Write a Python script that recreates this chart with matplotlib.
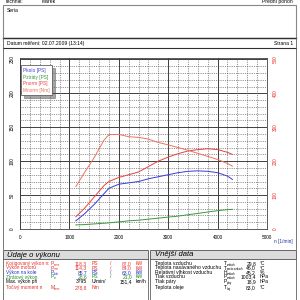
import numpy as np
import matplotlib
matplotlib.use('Agg')
import matplotlib.pyplot as plt
from matplotlib.lines import Line2D
from matplotlib.patches import Rectangle

plt.rcParams['font.family'] = ['Liberation Sans', 'DejaVu Sans']

# measured curves
rpm = [1130, 1300, 1500, 1700, 1800, 2000, 2200, 2400, 2600, 2800, 3000,
       3200, 3400, 3600, 3800, 4000, 4200, 4300]
p_norm = [18, 30, 47, 64, 70, 76, 80, 84, 92, 100, 106, 111, 115, 117, 118.3,
          117, 113, 110]
p_kolo = [12, 22, 36, 52, 60, 66, 68, 70, 74, 77, 80, 83, 85, 85.7, 85, 83,
          78, 73]
p_ztr = [6, 6.5, 7.5, 8.5, 9, 10.5, 12, 13, 14.5, 16, 17.5, 19, 21, 23, 25,
         27, 28.5, 29]
m_norm = [125, 165, 210, 262, 278, 278.8, 272, 270, 265, 255, 248, 240, 232,
          223, 214, 205, 193, 185]

legend_labels = ['Pkolo [PS]', 'Pztráty [PS]', 'Pnorm [PS]', 'Mnorm [Nm]']

perf_rows = [
    ('Korigovaný výkon n:', 'norm', '118,3', 'PS', '87,0', 'kW', '#e8302a'),
    ('Výkon motoru', 'mot', '114,3', 'PS', '84,0', 'kW', '#e8302a'),
    ('Výkon na kole', 'kolo', '85,7', 'PS', '63,0', 'kW', '#2030d0'),
    ('Ztrátový výkon', 'ztr', '28,6', 'PS', '21,0', 'kW', '#208a20'),
]
ext_rows = [
    ('Teplota vzduchu', 'T', 'vzduch', '29,8', '°C'),
    ('Teplota nasávaného vzduchu', 'T', 'nasáv.vzduch', '46,0', '°C'),
    ('Relativní vlhkost vzduchu', 'H', 'vzduch', '45,2', '%'),
    ('Tlak vzduchu', 'P', 'vzduch', '1003,4', 'hPa'),
    ('Tlak páry', 'P', 'páry', '18,9', 'hPa'),
    ('Teplota oleje', 'T', 'olej', '83,0', '°C'),
]

W, H = 300, 300
fig = plt.figure(figsize=(3, 3), dpi=100)
fs = 3.6


def ftxt(x, y, s, **kw):
    kw.setdefault('va', 'center')
    kw.setdefault('fontsize', fs)
    fig.text(x / W, 1 - y / H, s, **kw)


def fsym(x, y, base, sub, color='black'):
    ftxt(x, y, base, color=color)
    ftxt(x + 3.2, y + 1.3, sub, fontsize=2.0, color=color)


def fline(x0, y0, x1, y1, **kw):
    kw.setdefault('color', '#606060')
    kw.setdefault('lw', 0.6)
    fig.add_artist(Line2D([x0 / W, x1 / W], [1 - y0 / H, 1 - y1 / H],
                          transform=fig.transFigure, **kw))


def frect(x0, y0, x1, y1, **kw):
    fig.add_artist(Rectangle((x0 / W, 1 - y1 / H), (x1 - x0) / W, (y1 - y0) / H,
                             transform=fig.transFigure, **kw))


# header
ftxt(5, 1.5, 'Technik:')
ftxt(42, 1.5, 'Marek')
ftxt(293, 1.5, 'Přední pohon', ha='right')
frect(3, 5, 296, 38, fill=False, ec='#888888', lw=0.8)
fline(3, 38, 296, 38, color='#303030', lw=1.0)
ftxt(7, 10, 'Seria')
ftxt(7, 43.5, 'Datum měření: 02.07.2009 (13:14)')
ftxt(293, 43.5, 'Strana 1', ha='right')
fline(3, 48, 296, 48, color='#303030', lw=0.8)
fline(3, 38, 3, 249)
fline(296, 38, 296, 249)

# chart
ax = fig.add_axes([20 / W, 1 - 229 / H, 247 / W, 171 / H])
ax.set_xlim(0, 5000)
ax.set_ylim(0, 252)
ax.set_xticks(np.arange(0, 5001, 1000))
ax.set_xticks(np.arange(0, 5001, 200), minor=True)
ax.set_yticks(np.arange(0, 251, 50))
ax.set_yticks(np.arange(0, 251, 10), minor=True)
ax.grid(which='major', color='#404040', lw=0.7, ls='-')
ax.grid(which='minor', color='#404040', lw=0.4, ls=(0, (2, 2)))
ax.set_axisbelow(True)
ax.tick_params(which='both', length=0, labelsize=3.4, pad=4)
for lab in ax.get_yticklabels():
    lab.set_rotation(90)
    lab.set_va('center')
for s in ax.spines.values():
    s.set_color('#404040')
    s.set_linewidth(0.6)

ax2 = ax.twinx()
ax2.set_ylim(0, 504)
ax2.set_yticks(np.arange(0, 501, 100))
ax2.tick_params(length=0, labelsize=3.4, pad=4, colors='#e8302a')
for lab in ax2.get_yticklabels():
    lab.set_rotation(90)
    lab.set_va('center')
for s in ax2.spines.values():
    s.set_visible(False)

c_kolo, c_ztr, c_norm, c_m = '#3a3ae0', '#3a9a3a', '#e84040', '#f07060'
ax.plot(rpm, p_kolo, color=c_kolo, lw=0.7)
ax.plot(rpm, p_ztr, color=c_ztr, lw=0.7)
ax.plot(rpm, p_norm, color=c_norm, lw=0.7)
ax2.plot(rpm, m_norm, color=c_m, lw=0.7)

handles = [Line2D([], [], lw=0) for _ in legend_labels]
leg = ax2.legend(handles, legend_labels, loc='upper left',
                 bbox_to_anchor=(-0.005, 0.97), fontsize=3.4,
                 handlelength=0, handletextpad=0, labelspacing=0.35,
                 borderpad=0.5, fancybox=False, shadow=True,
                 edgecolor='#606060',
                 labelcolor=[c_kolo, c_ztr, c_norm, c_m])
leg.get_frame().set_linewidth(0.6)

ftxt(283, 242, 'n [1/min]', ha='center', fontsize=3.4, color='#2030a0')

# bottom panels
frect(3, 250, 148, 259, fc='#dcdcdc', ec='#505050', lw=0.6)
frect(150, 250, 296, 259, fc='#dcdcdc', ec='#505050', lw=0.6)
fline(3, 259, 3, 300)
fline(148, 259, 148, 300)
fline(150, 259, 150, 300)
fline(296, 259, 296, 300)
ftxt(7, 254.5, 'Údaje o výkonu', fontsize=5.5, style='italic')
ftxt(155, 254.5, 'Vnější data', fontsize=5.5, style='italic')

ys = [263.5, 268, 272.5, 277, 281.5, 287.5]
for y, (lab, sub, v1, u1, v2, u2, c) in zip(ys, perf_rows):
    ftxt(6, y, lab, color=c, fontsize=3.4)
    fsym(51, y, 'P', sub, color=c)
    ftxt(87, y, v1, ha='right', color=c)
    ftxt(92, y, u1, color=c)
    ftxt(110, y, '/', color=c)
    ftxt(132, y, v2, ha='right', color=c)
    ftxt(136, y, u2, color=c)
ftxt(6, ys[4], 'Max. výkon při', fontsize=3.4)
ftxt(87, ys[4], '3795', ha='right')
ftxt(92, ys[4], 'U/min/')
ftxt(132, ys[4], '151,4', ha='right')
ftxt(136, ys[4], 'km/h')
ftxt(6, ys[5], 'Točivý moment n', color='#e8302a', fontsize=3.4)
fsym(51, ys[5], 'M', 'norm', color='#e8302a')
ftxt(87, ys[5], '278,8', ha='right', color='#e8302a')
ftxt(92, ys[5], 'Nm', color='#e8302a')

for y, (lab, sym, sub, val, unit) in zip(ys, ext_rows):
    ftxt(155, y, lab)
    fsym(224, y, sym, sub)
    ftxt(256, y, val, ha='right')
    ftxt(260, y, unit)

fig.savefig('out.png', dpi=100)
